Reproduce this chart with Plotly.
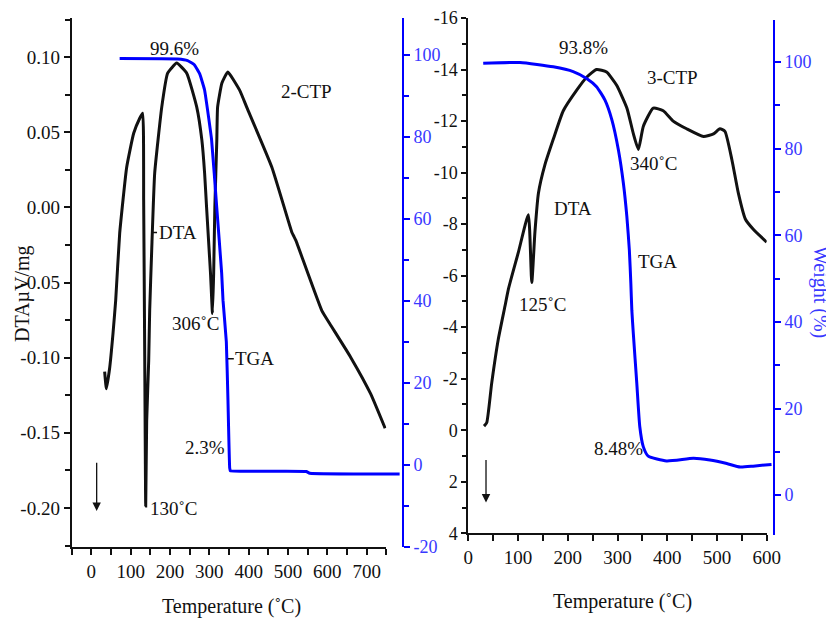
import plotly.graph_objects as go

# The page body has an 8 px default margin, so the figure starts 8 px in from
# the window's corner; all layout positions below are measured in window pixels.
OFF = 8
W, H = 834 - OFF, 620 - OFF

def fx(px):
    return (px - OFF) / W

def fy(py):
    return 1 - (py - OFF) / H

# ---------------- data: left panel (2-CTP) ----------------
dta_l_temp = [33.8, 38.2, 46.6, 55, 61.8, 72, 89.8, 107.6, 123, 130.5, 133, 135.6, 138.2,
              140.7, 145.8, 148.3, 153.4, 161, 179, 194, 217, 242.5, 268, 281, 288, 293,
              298, 303, 308, 311, 314, 319, 321, 332, 347, 377, 395, 459, 510, 515, 520,
              586, 606, 660, 710, 747]
dta_l_val = [-0.1093, -0.1207, -0.1067, -0.084, -0.062, -0.0173, 0.0267, 0.0493, 0.0593,
             0.0627, 0.0047, -0.0953, -0.1987, -0.142, -0.102, -0.0687, -0.0287, 0.0227,
             0.0667, 0.0893, 0.096, 0.0893, 0.0667, 0.0447, 0.0227, 0.0, -0.022, -0.044,
             -0.0707, -0.044, 0.0, 0.0447, 0.0667, 0.0827, 0.090, 0.078, 0.0667, 0.0267,
             -0.0167, -0.0193, -0.022, -0.0687, -0.0773, -0.1000, -0.1240, -0.1470]

tga_l_temp = [72, 220, 245, 262, 276, 288, 306, 319, 331.6, 335, 343.5, 347.6, 352, 353.7,
              547, 555.5, 784.5]
tga_l_val = [99.1, 99.0, 98.6, 97.6, 95.3, 91.5, 79.3, 62.9, 46.8, 40.2, 30.0, 15.9, -0.7,
             -1.4, -1.6, -2.0, -2.2]

# ---------------- data: right panel (3-CTP) ----------------
dta_r_temp = [31.6, 37, 47, 60.2, 73.8, 80.5, 100.6, 120.7, 127.6, 134, 141, 154, 171,
              191, 218, 238, 258, 278, 298, 319, 332, 342, 352, 372, 392, 412, 439, 473,
              493, 506, 516, 530, 543, 557, 573, 600]
dta_r_val = [-0.16, -0.29, -1.82, -3.52, -4.82, -5.47, -6.90, -8.36, -5.73, -7.7, -9.2,
             -10.3, -11.3, -12.4, -13.2, -13.7, -14.0, -13.9, -13.4, -12.5, -11.5, -10.9,
             -11.8, -12.5, -12.4, -12.0, -11.7, -11.4, -11.5, -11.7, -11.6, -10.5, -9.2,
             -8.2, -7.8, -7.3]

tga_r_temp = [30, 104, 171, 211, 238, 258, 275, 289, 302, 312, 319, 324, 327, 329, 332,
              339, 345, 352, 362, 399, 453, 486, 520, 547, 573, 610]
tga_r_val = [99.7, 99.9, 98.9, 97.8, 96.2, 94.3, 91.2, 86.6, 79.7, 72.0, 64.3, 56.6, 48.9,
             42.7, 37.3, 25.8, 15.8, 11.2, 9.0, 7.9, 8.5, 8.1, 7.3, 6.5, 6.7, 7.1]

# ---------------- tick labels ----------------
yl_vals = [-0.20, -0.15, -0.10, -0.05, 0.0, 0.05, 0.10]
yl_text = ["-0.20", "-0.15", "-0.10", "-0.05", "0.00", "0.05", "0.10"]
yl2_vals = [-20, 0, 20, 40, 60, 80, 100]
yl2_text = ["-20", "0", "20", "40", "60", "80", "100"]
yr_vals = [-16, -14, -12, -10, -8, -6, -4, -2, 0, 2, 4]
yr_text = ["-16", "-14", "-12", "-10", "-8", "-6", "-4", "-2", "0", "2", "4"]
yr2_vals = [0, 20, 40, 60, 80, 100]
yr2_text = ["0", "20", "40", "60", "80", "100"]

FONT = "Liberation Serif"
BLACK = "#111111"
BLUE = "#0000ff"
BLUE_TXT = "#3838ff"
FS = 19

fig = go.Figure()
fig.add_trace(go.Scatter(x=dta_l_temp, y=dta_l_val, xaxis="x", yaxis="y", mode="lines",
                         line=dict(color=BLACK, width=3, shape="spline", smoothing=0.4),
                         showlegend=False))
fig.add_trace(go.Scatter(x=tga_l_temp, y=tga_l_val, xaxis="x3", yaxis="y3", mode="lines",
                         line=dict(color=BLUE, width=3, shape="spline", smoothing=0.3),
                         showlegend=False))
fig.add_trace(go.Scatter(x=dta_r_temp, y=dta_r_val, xaxis="x2", yaxis="y2", mode="lines",
                         line=dict(color=BLACK, width=3, shape="spline", smoothing=0.5),
                         showlegend=False))
fig.add_trace(go.Scatter(x=tga_r_temp, y=tga_r_val, xaxis="x4", yaxis="y4", mode="lines",
                         line=dict(color=BLUE, width=3, shape="spline", smoothing=0.5),
                         showlegend=False))

axis_common = dict(showgrid=False, zeroline=False, showline=True, linewidth=2,
                   tickwidth=2, automargin=False)

def xbottom(domain, rng, anchor):
    return dict(domain=domain, range=rng, anchor=anchor, tickmode="linear", tick0=0,
                dtick=100, ticks="outside", ticklen=6, linecolor=BLACK, tickcolor=BLACK,
                tickfont=dict(family=FONT, size=FS, color=BLACK),
                minor=dict(tickmode="linear", tick0=0, dtick=50, ticks="outside",
                           ticklen=6, tickwidth=2, tickcolor=BLACK),
                **axis_common)

def xtop(over, rng, anchor):
    d = dict(overlaying=over, side="top", range=rng, anchor=anchor, tickmode="linear",
             tick0=0, dtick=50, ticks="inside", ticklen=7, showticklabels=False,
             linecolor=BLACK, tickcolor=BLACK)
    d.update(axis_common)
    return d

def blue_y(domain, rng, anchor, vals, text):
    return dict(domain=domain, range=rng, anchor=anchor, side="right",
                tickmode="array", tickvals=vals, ticktext=text, ticks="outside",
                ticklen=6, showgrid=False, zeroline=False, showline=True, linewidth=2,
                tickwidth=2, linecolor=BLUE, tickcolor=BLUE, automargin=False,
                tickfont=dict(family=FONT, size=18, color=BLUE_TXT),
                minor=dict(tickmode="linear", tick0=0, dtick=10, ticks="outside",
                           ticklen=5, tickwidth=2, tickcolor=BLUE))

layout = dict(
    width=W, height=H, autosize=False,
    margin=dict(l=0, r=0, t=0, b=0, pad=0),
    paper_bgcolor="white", plot_bgcolor="rgba(0,0,0,0)",
    font=dict(family=FONT, size=FS, color=BLACK),
    xaxis=xbottom([fx(71.7), fx(386.3)], [-50, 750], "y"),
    xaxis5=xtop("x", [-50, 750], "y"),
    yaxis=dict(domain=[fy(547), fy(18)], range=[-0.226, 0.126], anchor="x",
               tickmode="array", tickvals=yl_vals, ticktext=yl_text, ticks="outside",
               ticklen=6, linecolor=BLACK, tickcolor=BLACK,
               tickfont=dict(family=FONT, size=FS, color=BLACK),
               minor=dict(tickmode="linear", tick0=0, dtick=0.025, ticks="outside",
                          ticklen=5, tickwidth=2, tickcolor=BLACK),
               **axis_common),
    xaxis3=dict(domain=[fx(71.7), fx(402)], range=[-50, 790.5], anchor="y3",
                visible=False, automargin=False),
    yaxis3=blue_y([fy(547), fy(18)], [-20, 109], "x3", yl2_vals, yl2_text),
    xaxis2=xbottom([fx(468.3), fx(766.7)], [0, 600], "y2"),
    xaxis6=xtop("x2", [0, 600], "y2"),
    yaxis2=dict(domain=[fy(533.3), fy(18)], range=[4, -16], anchor="x2",
                tickmode="array", tickvals=yr_vals, ticktext=yr_text, ticks="outside",
                ticklen=5, linecolor=BLACK, tickcolor=BLACK,
                tickfont=dict(family=FONT, size=18, color=BLACK),
                minor=dict(tickmode="linear", tick0=0, dtick=1, ticks="outside",
                           ticklen=4, tickwidth=2, tickcolor=BLACK),
                **axis_common),
    xaxis4=dict(domain=[fx(468.3), fx(773)], range=[0, 613], anchor="y4", visible=False,
                automargin=False),
    yaxis4=blue_y([fy(535), fy(20)], [-9.2, 109.7], "x4", yr2_vals, yr2_text),
)
fig.update_layout(**layout)

def label(text, x, y, xref, yref, size=FS, color=BLACK, **kw):
    d = dict(text=text, x=x, y=y, xref=xref, yref=yref, showarrow=False,
             xanchor="center", yanchor="middle",
             font=dict(family=FONT, size=size, color=color))
    d.update(kw)
    fig.add_annotation(**d)

# left panel labels
label("99.6%", 212, 0.106, "x", "y")
label("2-CTP", 546, 0.0773, "x", "y")
label("DTA", 153, -0.0167, "x", "y", showarrow=True, arrowhead=0, arrowwidth=1.5,
      arrowcolor=BLACK, ax=26, ay=0)
label("306˚C", 266, -0.0773, "x", "y")
label("TGA", 347, -0.1007, "x", "y", showarrow=True, arrowhead=0, arrowwidth=1.5,
      arrowcolor=BLACK, ax=27, ay=0)
label("2.3%", 288, -0.160, "x", "y")
label("130˚C", 210, -0.2007, "x", "y")
fig.add_annotation(x=13.5, y=-0.202, ax=13.5, ay=-0.169, xref="x", yref="y",
                   axref="x", ayref="y", text="", showarrow=True, arrowhead=2,
                   arrowsize=1.3, arrowwidth=1.3, arrowcolor=BLACK)

# right panel labels
label("93.8%", 231, -14.84, "x2", "y2")
label("3-CTP", 410, -13.7, "x2", "y2")
label("340˚C", 374, -10.35, "x2", "y2")
label("DTA", 210, -8.59, "x2", "y2")
label("TGA", 380, -6.56, "x2", "y2")
label("125˚C", 150, -4.88, "x2", "y2")
label("8.48%", 301, 0.70, "x2", "y2")
fig.add_annotation(x=35.6, y=2.8, ax=35.6, ay=1.1, xref="x2", yref="y2",
                   axref="x2", ayref="y2", text="", showarrow=True, arrowhead=2,
                   arrowsize=1.3, arrowwidth=1.3, arrowcolor=BLACK)

# axis titles
label("DTAµV/mg", fx(22), fy(294), "paper", "paper", size=20, textangle=-90)
label("Weight (%)", fx(821), fy(292), "paper", "paper", size=20, color=BLUE_TXT,
      textangle=90)
label("Temperature (˚C)", fx(231), fy(606), "paper", "paper", size=20)
label("Temperature (˚C)", fx(622), fy(601), "paper", "paper", size=20)

fig.write_html("out.html")
